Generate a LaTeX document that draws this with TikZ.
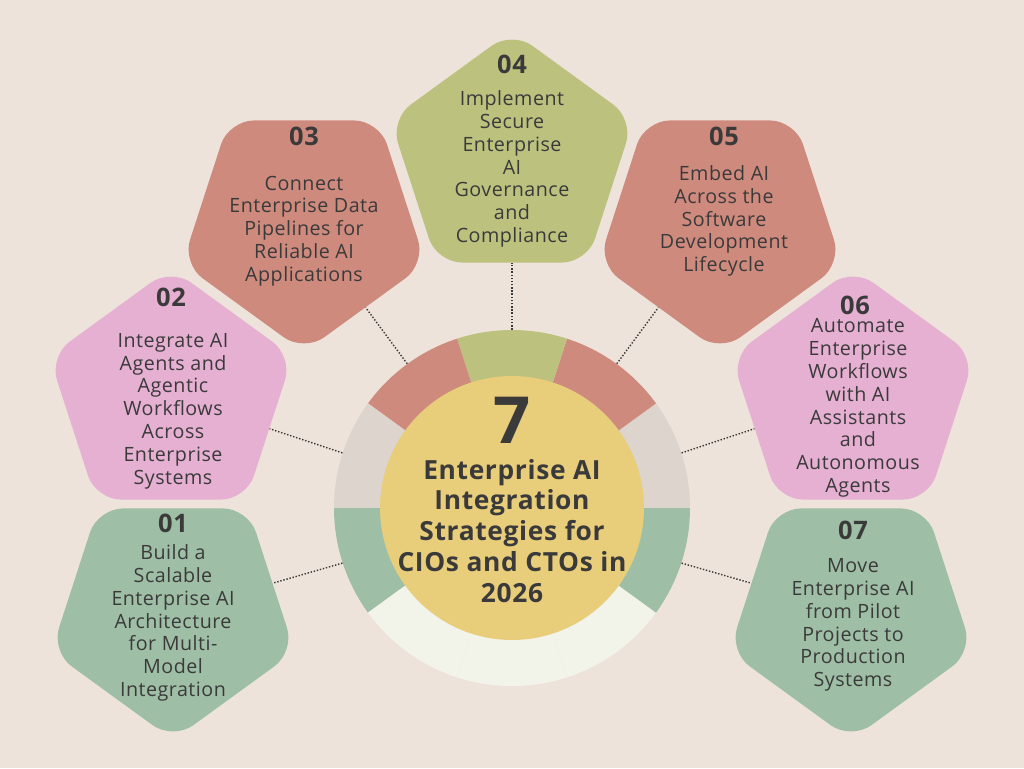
\documentclass[tikz,border=0pt]{standalone}
\usepackage{fontspec}
\setmainfont[LetterSpace=2.5]{Open Sans}
\usetikzlibrary{shapes.geometric}
\definecolor{bg}{HTML}{EEE3DA}
\definecolor{ink}{HTML}{3B3A3A}
\definecolor{pink}{HTML}{E6B0D2}
\definecolor{salmon}{HTML}{CF8A7E}
\definecolor{olive}{HTML}{BCC17E}
\definecolor{sage}{HTML}{9EBFA6}
\definecolor{ringgray}{HTML}{DDD4CD}
\definecolor{ringwhite}{HTML}{F2F3E9}
\definecolor{sun}{HTML}{E8CD7B}
\tikzset{
  pent/.style={regular polygon, regular polygon sides=5, minimum size=5.12cm,
    inner sep=0pt, rounded corners=0.5cm},
  pentdown/.style={pent, shape border rotate=180},
  numtxt/.style={font=\fontsize{14.5}{17}\selectfont\bfseries, text=ink},
  bodytxt/.style={align=center, font=\fontsize{11.2}{13}\selectfont, text=ink},
  link/.style={ink, line width=0.8pt, densely dotted},
}
\begin{document}
\begin{tikzpicture}[x=0.02cm, y=0.02cm]
  \fill[bg] (0,0) rectangle (1024,768);

  \coordinate (c) at (512,260);
  \foreach \a/\col in {0/ringgray, 36/salmon, 72/olive, 108/salmon, 144/ringgray,
      180/sage, 216/ringwhite, 252/ringwhite, 288/ringwhite, 324/sage}
    \fill[\col] (c) -- ++(\a:178) arc[start angle=\a, end angle=\a+36, radius=178] -- cycle;
  \node[circle, minimum size=7.12cm, inner sep=0pt] (ring) at (c) {};
  \node[circle, fill=sun, minimum size=5.28cm, inner sep=0pt] (hub) at (c) {};

  \node[pentdown, fill=sage] (p1) at (173,156) {};
  \node[pent, fill=pink] (p2) at (171,372) {};
  \node[pentdown, fill=salmon] (p3) at (304,544) {};
  \node[pent, fill=olive] (p4) at (512,609) {};
  \node[pentdown, fill=salmon] (p5) at (720,544) {};
  \node[pent, fill=pink] (p6) at (853,372) {};
  \node[pentdown, fill=sage] (p7) at (851,156) {};

  \draw[link] (ring.198) -- (p1);
  \draw[link] (ring.162) -- (p2);
  \draw[link] (ring.126) -- (p3);
  \draw[link] (ring.90) -- (p4);
  \draw[link] (ring.54) -- (p5);
  \draw[link] (ring.18) -- (p6);
  \draw[link] (ring.342) -- (p7);

  \node[numtxt] (n1) at (173,245) {01};
  \node[bodytxt] (t1) at (173,145) {Build a\\Scalable\\Enterprise AI\\Architecture\\for Multi-\\Model\\Integration};
  \node[numtxt] (n2) at (171,471) {02};
  \node[bodytxt] (t2) at (173,357) {Integrate AI\\Agents and\\Agentic\\Workflows\\Across\\Enterprise\\Systems};
  \node[numtxt] (n3) at (304,632) {03};
  \node[bodytxt] (t3) at (304,537) {Connect\\Enterprise Data\\Pipelines for\\Reliable AI\\Applications};
  \node[numtxt] (n4) at (512,704) {04};
  \node[bodytxt] (t4) at (512,599) {Implement\\Secure\\Enterprise\\AI\\Governance\\and\\Compliance};
  \node[numtxt] (n5) at (724,632) {05};
  \node[bodytxt] (t5) at (724,547) {Embed AI\\Across the\\Software\\Development\\Lifecycle};
  \node[numtxt] (n6) at (855,463) {06};
  \node[bodytxt] (t6) at (858,360) {Automate\\Enterprise\\Workflows\\with AI\\Assistants\\and\\Autonomous\\Agents};
  \node[numtxt] (n7) at (853,238) {07};
  \node[bodytxt] (t7) at (853,143) {Move\\Enterprise AI\\from Pilot\\Projects to\\Production\\Systems};

  \node[font=\fontsize{37}{40}\selectfont\bfseries, text=ink] (seven) at (512,348) {7};
  \node[align=center, font=\fontsize{15}{17.6}\selectfont\bfseries, text=ink] (title) at (512,237)
    {Enterprise AI\\Integration\\Strategies for\\CIOs and CTOs in\\2026};
\end{tikzpicture}
\end{document}
